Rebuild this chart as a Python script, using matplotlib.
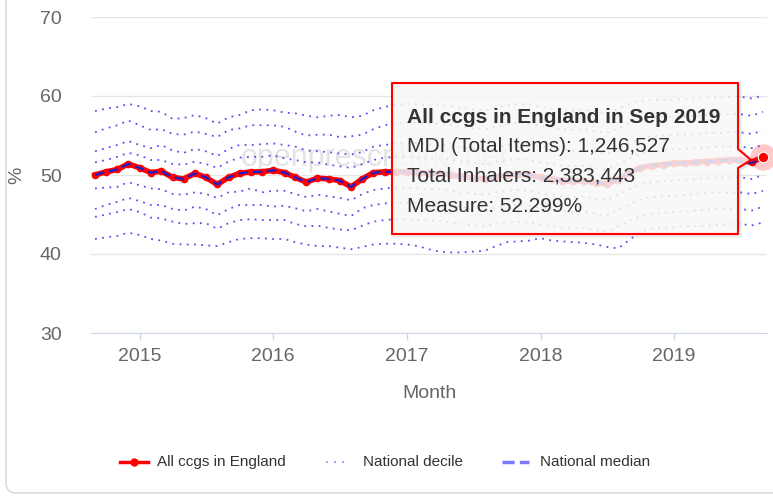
import pandas as pd
import matplotlib
matplotlib.use('Agg')
import matplotlib.pyplot as plt
from matplotlib.lines import Line2D
from matplotlib.patches import Polygon, FancyBboxPatch
from matplotlib.transforms import Affine2D

plt.rcParams['font.family'] = ['Liberation Sans', 'DejaVu Sans']

# monthly data, Sep 2014 - Sep 2019
months = pd.date_range('2014-09-01', periods=61, freq='MS')

england = [50.0, 50.4, 50.7, 51.4, 50.9, 50.3, 50.5, 49.7, 49.5, 50.2,
           49.7, 48.8, 49.7, 50.2, 50.4, 50.4, 50.6, 50.3, 49.7, 49.1,
           49.6, 49.5, 49.3, 48.5, 49.5, 50.3, 50.4, 50.4, 50.4, 50.3,
           50.2, 50.2, 50.0, 49.8, 49.6, 49.5, 49.8, 50.0, 50.1, 50.0,
           49.7, 49.5, 49.3, 49.2, 49.3, 49.0, 48.9, 49.4, 50.3, 50.9,
           51.2, 51.3, 51.5, 51.5, 51.6, 51.7, 51.8, 51.9, 51.9, 51.6,
           52.3]

median = [50.0, 50.4, 50.7, 51.4, 50.9, 50.3, 50.5, 49.7, 49.5, 50.2,
          49.7, 48.8, 49.7, 50.2, 50.4, 50.4, 50.6, 50.3, 49.7, 49.1,
          49.6, 49.5, 49.3, 48.5, 49.5, 50.3, 50.4, 50.4, 50.4, 50.3,
          50.2, 50.2, 50.0, 49.8, 49.6, 49.5, 49.8, 50.0, 50.1, 50.0,
          49.7, 49.5, 49.3, 49.2, 49.3, 49.0, 48.9, 49.4, 50.3, 50.9,
          51.2, 51.3, 51.5, 51.5, 51.6, 51.7, 51.8, 51.9, 51.8, 51.5,
          52.1]

d90 = [58.1, 58.4, 58.6, 59.0, 58.7, 58.1, 58.0, 57.1, 57.2, 57.6,
       57.2, 56.5, 57.3, 57.6, 58.2, 58.3, 58.2, 57.9, 57.8, 57.5,
       57.3, 57.5, 57.6, 57.3, 57.5, 58.2, 58.6, 58.9, 59.0, 58.9,
       58.8, 58.9, 58.7, 58.5, 58.3, 58.2, 58.5, 58.8, 59.0, 58.9,
       58.6, 58.4, 58.3, 58.2, 58.3, 58.0, 57.8, 58.4, 59.0, 59.4,
       59.5, 59.5, 59.6, 59.6, 59.7, 59.8, 59.8, 59.9, 59.9, 59.7,
       60.0]
d80 = [55.4, 55.9, 56.3, 56.9, 56.3, 55.7, 55.8, 55.2, 55.1, 55.5,
       55.2, 54.8, 55.7, 55.9, 56.3, 56.3, 56.3, 56.1, 55.5, 55.0,
       55.1, 55.1, 54.8, 54.9, 55.1, 55.8, 56.3, 56.6, 56.7, 56.6,
       56.5, 56.5, 56.3, 56.1, 55.9, 55.8, 56.1, 56.4, 56.6, 56.5,
       56.2, 56.0, 55.8, 55.7, 55.8, 55.5, 55.3, 55.9, 56.6, 57.1,
       57.3, 57.3, 57.4, 57.4, 57.5, 57.6, 57.6, 57.7, 57.7, 57.5,
       58.0]
d70 = [53.0, 53.4, 53.8, 54.3, 53.8, 53.4, 53.8, 53.1, 52.8, 53.3,
       53.0, 52.4, 53.3, 53.8, 53.8, 53.9, 54.0, 53.8, 53.6, 53.1,
       53.0, 52.9, 52.7, 52.6, 52.9, 53.6, 53.8, 54.0, 54.1, 54.0,
       53.9, 53.9, 53.7, 53.5, 53.3, 53.2, 53.5, 53.8, 54.0, 53.9,
       53.6, 53.4, 53.2, 53.1, 53.2, 52.9, 52.7, 53.3, 54.0, 54.6,
       54.9, 55.0, 55.1, 55.1, 55.2, 55.3, 55.3, 55.4, 55.4, 55.2,
       55.6]
d60 = [51.6, 51.9, 52.3, 52.8, 52.5, 51.9, 51.9, 51.4, 51.3, 51.7,
       51.4, 50.9, 51.7, 52.2, 52.3, 52.3, 52.5, 52.1, 51.9, 51.6,
       51.6, 51.3, 51.1, 50.9, 51.4, 51.9, 52.2, 52.3, 52.3, 52.2,
       52.1, 52.1, 51.9, 51.7, 51.5, 51.4, 51.7, 51.9, 52.0, 51.9,
       51.6, 51.4, 51.2, 51.1, 51.2, 50.9, 50.7, 51.4, 52.1, 52.7,
       53.0, 53.1, 53.3, 53.3, 53.4, 53.5, 53.6, 53.6, 53.6, 53.4,
       53.8]
d40 = [48.3, 48.4, 48.5, 49.1, 48.7, 48.3, 48.2, 47.6, 47.5, 47.8,
       47.6, 47.1, 47.8, 47.9, 48.3, 47.8, 48.0, 48.0, 47.6, 47.2,
       47.5, 47.3, 47.1, 46.8, 47.6, 48.1, 48.3, 48.4, 48.4, 48.3,
       48.2, 48.2, 48.0, 47.8, 47.6, 47.5, 47.8, 48.0, 48.1, 48.0,
       47.7, 47.5, 47.3, 47.2, 47.3, 47.0, 46.8, 47.5, 48.2, 48.8,
       49.1, 49.2, 49.3, 49.4, 49.5, 49.6, 49.7, 49.7, 49.7, 49.5,
       50.0]
d30 = [45.7, 46.2, 46.6, 47.1, 46.7, 46.2, 46.2, 45.7, 45.5, 46.0,
       45.7, 44.9, 45.7, 46.2, 46.2, 46.2, 46.0, 46.1, 45.8, 45.4,
       45.7, 45.4, 45.1, 44.8, 45.8, 46.2, 46.4, 46.5, 46.5, 46.4,
       46.3, 46.3, 46.1, 45.9, 45.7, 45.6, 45.9, 46.1, 46.2, 46.1,
       45.8, 45.6, 45.4, 45.3, 45.4, 45.1, 44.9, 45.6, 46.3, 46.9,
       47.2, 47.3, 47.4, 47.5, 47.6, 47.7, 47.8, 47.8, 47.8, 47.6,
       48.0]
d20 = [44.7, 45.0, 45.3, 45.7, 45.3, 44.6, 44.5, 44.1, 43.8, 43.9,
       43.9, 43.2, 43.9, 44.3, 44.4, 44.3, 44.3, 44.3, 43.8, 43.5,
       43.6, 43.3, 43.1, 43.0, 43.6, 44.1, 44.3, 44.4, 44.4, 44.3,
       44.2, 44.2, 44.0, 43.8, 43.6, 43.5, 43.8, 44.0, 44.1, 44.0,
       43.7, 43.5, 43.3, 43.2, 43.3, 43.0, 42.8, 43.5, 44.2, 44.8,
       45.1, 45.2, 45.3, 45.4, 45.5, 45.6, 45.7, 45.7, 45.7, 45.5,
       46.0]
d10 = [41.9, 42.1, 42.3, 42.7, 42.4, 41.9, 41.7, 41.3, 41.2, 41.2,
       41.1, 41.0, 41.5, 41.9, 42.0, 42.0, 41.9, 41.9, 41.5, 41.2,
       41.0, 41.0, 40.8, 40.6, 40.9, 41.2, 41.3, 41.3, 41.2, 41.0,
       40.6, 40.3, 40.2, 40.2, 40.3, 40.4, 41.0, 41.5, 41.6, 41.7,
       42.0, 41.7, 41.6, 41.5, 41.4, 41.2, 40.9, 40.7, 41.8, 42.8,
       43.2, 43.3, 43.4, 43.5, 43.5, 43.6, 43.7, 43.8, 43.8, 43.6,
       44.0]
deciles = [d10, d20, d30, d40, d60, d70, d80, d90]

year_ticks = pd.to_datetime(['2015-01-01', '2016-01-01', '2017-01-01',
                             '2018-01-01', '2019-01-01'])
year_labels = ['2015', '2016', '2017', '2018', '2019']

W, H = 773, 497
fig = plt.figure(figsize=(W / 100, H / 100), dpi=100)
ax = fig.add_axes([91 / W, 1 - 333 / H, (767 - 91) / W, (333 - 17) / H])
# pixel coordinates (origin top-left) for the furniture
px = Affine2D().scale(1 / W, -1 / H).translate(0, 1) + fig.transFigure

# card outline
fig.add_artist(FancyBboxPatch((6, -30), 820, 523, boxstyle='round,pad=0,rounding_size=10',
                              transform=px, fc='none', ec='#dedede', lw=1.3, zorder=0.5))

for d in deciles:
    ax.plot(months, d, color='#3434f0', lw=1.3, dashes=(1, 3), alpha=0.85, zorder=2)
ax.plot(months, england, color='red', lw=4, marker='o', ms=4.5, zorder=3)
ax.plot(months, median, color='#1e1ec8', lw=1.7, dashes=(4, 2), zorder=4)

# hovered point
ax.plot(months[-1:], england[-1:], 'o', ms=19, color='red', alpha=0.22, mec='none',
        clip_on=False, zorder=5)
ax.plot(months[-1:], england[-1:], 'o', ms=7.5, color='red', mec='white', mew=0.8,
        clip_on=False, zorder=6)

ax.text(241, 166, 'openprescribing.net', transform=px, fontsize=22, color='#dcdcdc',
        alpha=0.8, va='baseline', ha='left', zorder=1)

ax.set_ylim(30, 70)
ax.set_yticks([30, 40, 50, 60, 70])
ax.set_xlim(months[0] - pd.Timedelta(days=11), months[-1] + pd.Timedelta(days=11))
ax.set_xticks(year_ticks)
ax.set_xticklabels(year_labels)
ax.yaxis.grid(True, color='#e6e6e6', lw=1)
ax.set_axisbelow(True)
for s in ['top', 'right', 'left']:
    ax.spines[s].set_visible(False)
ax.spines['bottom'].set_color('#ccd6eb')
ax.tick_params(axis='y', length=0, pad=21, labelsize=14, labelcolor='#666666')
ax.tick_params(axis='x', length=5, width=1, color='#ccd6eb', pad=6, labelsize=14,
               labelcolor='#666666')
ax.set_xlabel('Month', fontsize=14, color='#666666', va='center')
ax.xaxis.set_label_coords(0.5, (333 - 393) / 316)
ax.set_ylabel('%', fontsize=14, color='#666666', va='center', ha='center')
ax.yaxis.set_label_coords((17 - 91) / 676, (333 - 175) / 316)

# tooltip
shape = [(392, 83), (738, 83), (738, 149), (751, 160), (738, 168), (738, 234), (392, 234)]
shadow = [(x + 1.5, y + 1.5) for x, y in shape]
fig.add_artist(Polygon(shadow, closed=True, transform=px, fc='none',
                       ec=(0, 0, 0, 0.08), lw=3, zorder=9))
fig.add_artist(Polygon(shape, closed=True, transform=px, fc=(0.969, 0.969, 0.969, 0.85),
                       ec='red', lw=1.5, joinstyle='round', zorder=10))
tip = ['All ccgs in England in Sep 2019', 'MDI (Total Items): 1,246,527',
       'Total Inhalers: 2,383,443', 'Measure: 52.299%']
for k, (t, yb) in enumerate(zip(tip, [123, 152, 182, 212])):
    fig.text(407, yb, t, transform=px, fontsize=15, color='#333333', va='baseline',
             fontweight='bold' if k == 0 else 'normal', zorder=11)

# legend
ly = 462
fig.add_artist(Line2D([120, 148], [ly, ly], transform=px, color='red', lw=2.5))
fig.add_artist(Line2D([134], [ly], transform=px, color='red', marker='o', ms=5))
fig.text(157, ly, 'All ccgs in England', transform=px, fontsize=11, color='#333333', va='center')
fig.add_artist(Line2D([326, 350], [ly, ly], transform=px, color='#8c8cff', lw=1.3, dashes=(1, 3.5)))
fig.text(363, ly, 'National decile', transform=px, fontsize=11, color='#333333', va='center')
fig.add_artist(Line2D([502, 529], [ly, ly], transform=px, color='#7b7bff', lw=2.5, dashes=(3.5, 1.5)))
fig.text(540, ly, 'National median', transform=px, fontsize=11, color='#333333', va='center')

fig.savefig('out.png', dpi=100)
